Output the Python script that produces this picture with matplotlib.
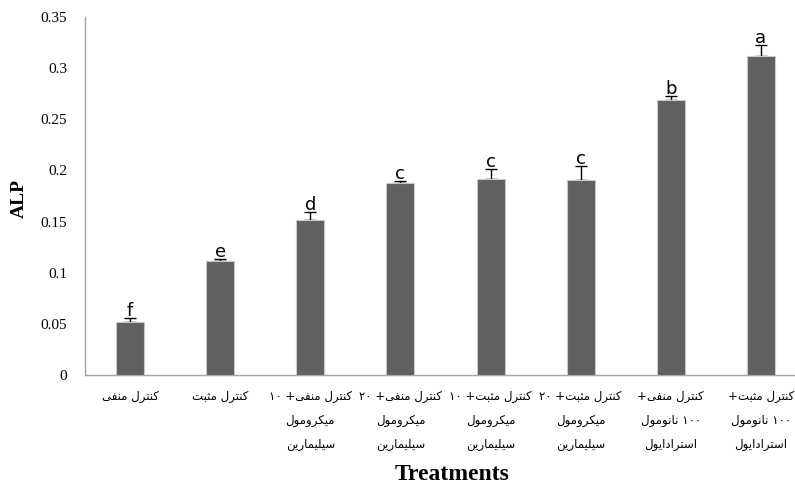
import matplotlib
matplotlib.use("Agg")
import matplotlib.pyplot as plt
import numpy as np

# Treatment groups (Persian, logical order; lines separated by \n)
categories = [
    "کنترل منفی",
    "کنترل مثبت",
    "کنترل منفی+ ۱۰\nمیکرومول\nسیلیمارین",
    "کنترل منفی+ ۲۰\nمیکرومول\nسیلیمارین",
    "کنترل مثبت+ ۱۰\nمیکرومول\nسیلیمارین",
    "کنترل مثبت+ ۲۰\nمیکرومول\nسیلیمارین",
    "کنترل منفی+\n۱۰۰ نانومول\nاسترادایول",
    "کنترل مثبت+\n۱۰۰ نانومول\nاسترادایول",
]
alp_means = [0.052, 0.111, 0.152, 0.188, 0.192, 0.191, 0.269, 0.312]
alp_errors = [0.004, 0.002, 0.007, 0.002, 0.009, 0.013, 0.004, 0.011]
group_letters = ["f", "e", "d", "c", "c", "c", "b", "a"]
y_ticks = [0, 0.05, 0.1, 0.15, 0.2, 0.25, 0.3, 0.35]
y_tick_labels = ["0", "0.05", "0.1", "0.15", "0.2", "0.25", "0.3", "0.35"]

# Arabic-script contextual forms: (isolated, final, initial, medial)
FORMS = {
    "\u0627": ("\uFE8D", "\uFE8E", None, None),
    "\u0628": ("\uFE8F", "\uFE90", "\uFE91", "\uFE92"),
    "\u062A": ("\uFE95", "\uFE96", "\uFE97", "\uFE98"),
    "\u062B": ("\uFE99", "\uFE9A", "\uFE9B", "\uFE9C"),
    "\u062F": ("\uFEA9", "\uFEAA", None, None),
    "\u0631": ("\uFEAD", "\uFEAE", None, None),
    "\u0633": ("\uFEB1", "\uFEB2", "\uFEB3", "\uFEB4"),
    "\u0641": ("\uFED1", "\uFED2", "\uFED3", "\uFED4"),
    "\u0644": ("\uFEDD", "\uFEDE", "\uFEDF", "\uFEE0"),
    "\u0645": ("\uFEE1", "\uFEE2", "\uFEE3", "\uFEE4"),
    "\u0646": ("\uFEE5", "\uFEE6", "\uFEE7", "\uFEE8"),
    "\u0648": ("\uFEED", "\uFEEE", None, None),
    "\u06A9": ("\uFB8E", "\uFB8F", "\uFB90", "\uFB91"),
    "\u06CC": ("\uFBFC", "\uFBFD", "\uFBFE", "\uFBFF"),
}


def shape_line(text):
    """Join letters contextually and lay the line out right-to-left."""
    out = []
    n = len(text)
    for i, ch in enumerate(text):
        if ch not in FORMS:
            out.append(ch)
            continue
        iso, fin, ini, med = FORMS[ch]
        prev = text[i - 1] if i > 0 else ""
        nxt = text[i + 1] if i + 1 < n else ""
        joins_prev = prev in FORMS and FORMS[prev][2] is not None
        joins_next = nxt in FORMS and ini is not None
        if joins_prev and joins_next:
            out.append(med)
        elif joins_prev:
            out.append(fin)
        elif joins_next:
            out.append(ini)
        else:
            out.append(iso)
    # split into digit / non-digit runs, then reverse for RTL display
    runs = []
    for ch in out:
        d = ch.isdigit()
        if runs and runs[-1][0] == d:
            runs[-1][1].append(ch)
        else:
            runs.append([d, [ch]])
    visual = []
    for d, chars in reversed(runs):
        visual.append("".join(chars) if d else "".join(reversed(chars)))
    return "".join(visual)


def shape(text):
    return "\n".join(shape_line(line) for line in text.split("\n"))


bar_color = "#606060"
axis_color = "#A6A6A6"

fig = plt.figure(figsize=(7.95, 4.86), dpi=100)
ax = fig.add_axes([85 / 795, 111 / 486, 721 / 795, 358 / 486])

x = np.arange(len(categories))
ax.bar(x, alp_means, width=0.31, color=bar_color, edgecolor="#C8C8C8",
       linewidth=0.8, zorder=3)
ax.errorbar(x, alp_means, yerr=[np.zeros(len(x)), alp_errors], fmt="none",
            ecolor="black", elinewidth=1.0, capsize=4.5, capthick=1.0, zorder=2)

for xi, m, e, lab in zip(x, alp_means, alp_errors, group_letters):
    ax.annotate(lab, (xi, m + e), xytext=(0, 1.5), textcoords="offset points",
                ha="center", va="baseline", fontsize=13,
                family="DejaVu Sans", color="black", zorder=4)

ax.set_xlim(-0.5, len(categories) - 0.5)
ax.set_ylim(0, 0.35)
ax.set_yticks(y_ticks, y_tick_labels, family="Liberation Serif", fontsize=11)
ax.set_xticks(x, [shape(c) for c in categories], family="DejaVu Sans",
              fontsize=8.5, linespacing=2.1)
ax.tick_params(axis="both", length=0)
ax.tick_params(axis="y", pad=13)
ax.tick_params(axis="x", pad=11)

for side in ("top", "right"):
    ax.spines[side].set_visible(False)
for side in ("left", "bottom"):
    ax.spines[side].set_color(axis_color)
    ax.spines[side].set_linewidth(1.0)

fig.text(19 / 795, 1 - 198 / 486, "ALP", family="Liberation Serif",
         fontweight="bold", fontsize=14, rotation=90,
         ha="center", va="center")
fig.text(452 / 795, 1 - 474 / 486, "Treatments", family="Liberation Serif",
         fontweight="bold", fontsize=17, ha="center", va="center")

fig.savefig("out.png", dpi=100)
